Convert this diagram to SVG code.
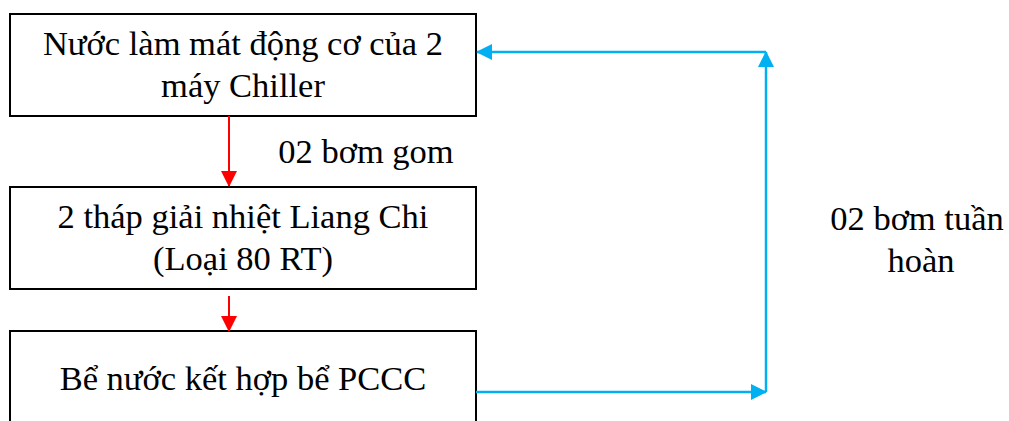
<svg xmlns="http://www.w3.org/2000/svg" width="1009" height="421" viewBox="0 0 1009 421">
<style>
.box{fill:#fff;stroke:#000;stroke-width:2}
.t{font-family:"Liberation Serif","Times New Roman",serif;font-size:34.5px;fill:#000;text-anchor:middle}
.red{stroke:#ff0000;stroke-width:2;fill:none}
.blue{stroke:#00b0f0;stroke-width:2.5;fill:none}
</style>
<defs>
<marker id="ar" markerWidth="16" markerHeight="16" refX="15" refY="8" orient="auto" markerUnits="userSpaceOnUse"><path d="M0,0 L16,8 L0,16 Z" fill="#ff0000"/></marker>
<marker id="ab" markerWidth="16" markerHeight="16" refX="15" refY="8" orient="auto" markerUnits="userSpaceOnUse"><path d="M0,0 L16,8 L0,16 Z" fill="#00b0f0"/></marker>
</defs>
<g id="n1"><rect class="box" x="10" y="14" width="466" height="102"/><text class="t" x="243" y="55">Nước làm mát động cơ của 2</text><text class="t" x="243" y="97">máy Chiller</text></g>
<g id="n2"><rect class="box" x="10" y="187" width="466" height="102"/><text class="t" x="243" y="228">2 tháp giải nhiệt Liang Chi</text><text class="t" x="243" y="270">(Loại 80 RT)</text></g>
<g id="n3"><rect class="box" x="10" y="331" width="466" height="102"/><text class="t" x="243" y="390">Bể nước kết hợp bể PCCC</text></g>
<g id="connectors">
<line class="red" x1="229" y1="116" x2="229" y2="186" marker-end="url(#ar)"/>
<line class="red" x1="229" y1="296" x2="229" y2="331" marker-end="url(#ar)"/>
<line class="blue" x1="476" y1="392" x2="766" y2="392" marker-end="url(#ab)"/>
<line class="blue" x1="766" y1="392" x2="766" y2="52" marker-end="url(#ab)"/>
<line class="blue" x1="766" y1="52" x2="477" y2="52" marker-end="url(#ab)"/>
</g>
<g id="labels">
<text class="t" x="366" y="163">02 bơm gom</text>
<text class="t" x="917" y="230">02 bơm tuần</text>
<text class="t" x="921" y="272">hoàn</text>
</g>
</svg>
